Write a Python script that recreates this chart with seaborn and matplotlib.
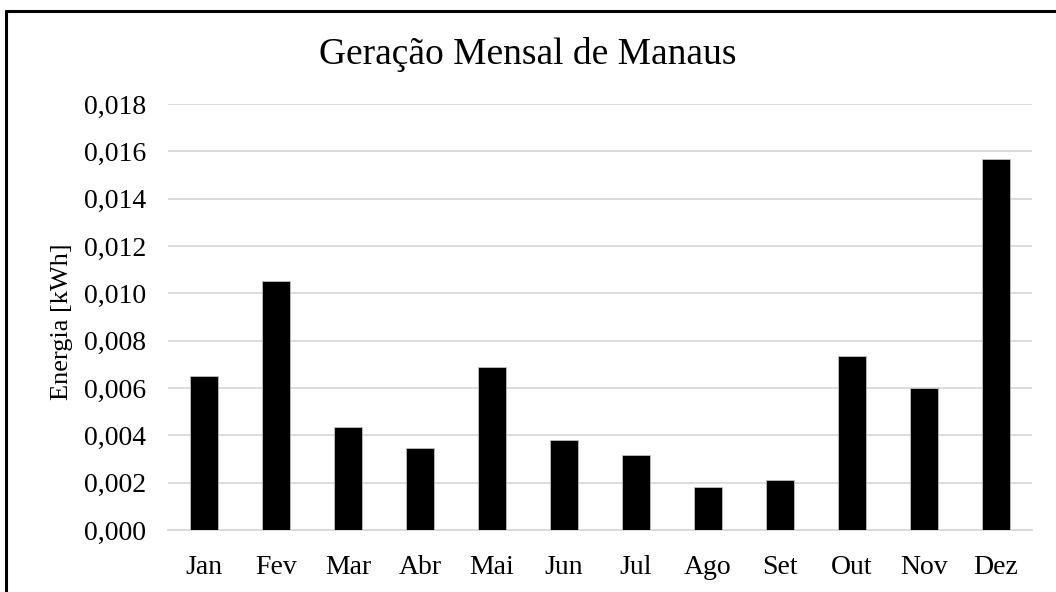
import matplotlib
matplotlib.use("Agg")
import matplotlib.pyplot as plt
from matplotlib.lines import Line2D
from matplotlib.ticker import FuncFormatter
import seaborn as sns
import pandas as pd

months = ["Jan", "Fev", "Mar", "Abr", "Mai", "Jun", "Jul", "Ago", "Set", "Out", "Nov", "Dez"]
energy = [0.00651, 0.01054, 0.00437, 0.00348, 0.00690, 0.00382,
          0.00317, 0.00182, 0.00211, 0.00737, 0.00601, 0.01566]

df = pd.DataFrame({"mes": months, "energia": energy})

sns.set_theme(style="white")
plt.rcParams["font.family"] = ["Liberation Serif", "DejaVu Serif"]
plt.rcParams["text.color"] = "black"

W, H = 1056, 592
fig, ax = plt.subplots(figsize=(W / 100, H / 100), dpi=100)
fig.subplots_adjust(left=168 / W, right=1032 / W, top=1 - 104 / H, bottom=1 - 530 / H)

sns.barplot(data=df, x="mes", y="energia", color="black", width=0.39,
            saturation=1, edgecolor="#bfbfbf", linewidth=0.6, ax=ax, zorder=3)

ax.set_ylim(0, 0.018)
ax.set_yticks([i * 0.002 for i in range(10)])
ax.yaxis.set_major_formatter(FuncFormatter(lambda v, p: f"{v:.3f}".replace(".", ",")))
ax.grid(axis="y", color="#d9d9d9", linewidth=1.3, zorder=0)
ax.set_axisbelow(True)
for s in ["top", "right", "left"]:
    ax.spines[s].set_visible(False)
ax.spines["bottom"].set_color("#d9d9d9")
ax.spines["bottom"].set_linewidth(1.3)
ax.tick_params(axis="both", length=0, labelsize=20, colors="black")
ax.tick_params(axis="y", pad=16)
ax.tick_params(axis="x", pad=18)

ax.set_xlabel("")
ax.set_ylabel("Energia [kWh]", fontsize=19, color="black")
ax.yaxis.set_label_coords(-0.110, 0.49)
fig.text(0.5, 1 - 55 / H, "Geração Mensal de Manaus", ha="center", va="center",
         fontsize=27, color="black")

# outer frame (top and left, as in the source screenshot)
fig.add_artist(Line2D([6 / W, 6 / W], [0, 1 - 10.5 / H], color="black", linewidth=2.2,
                      transform=fig.transFigure))
fig.add_artist(Line2D([6 / W, 1], [1 - 10.5 / H, 1 - 10.5 / H], color="black", linewidth=2.2,
                      transform=fig.transFigure))

fig.savefig("out.png", dpi=100)
